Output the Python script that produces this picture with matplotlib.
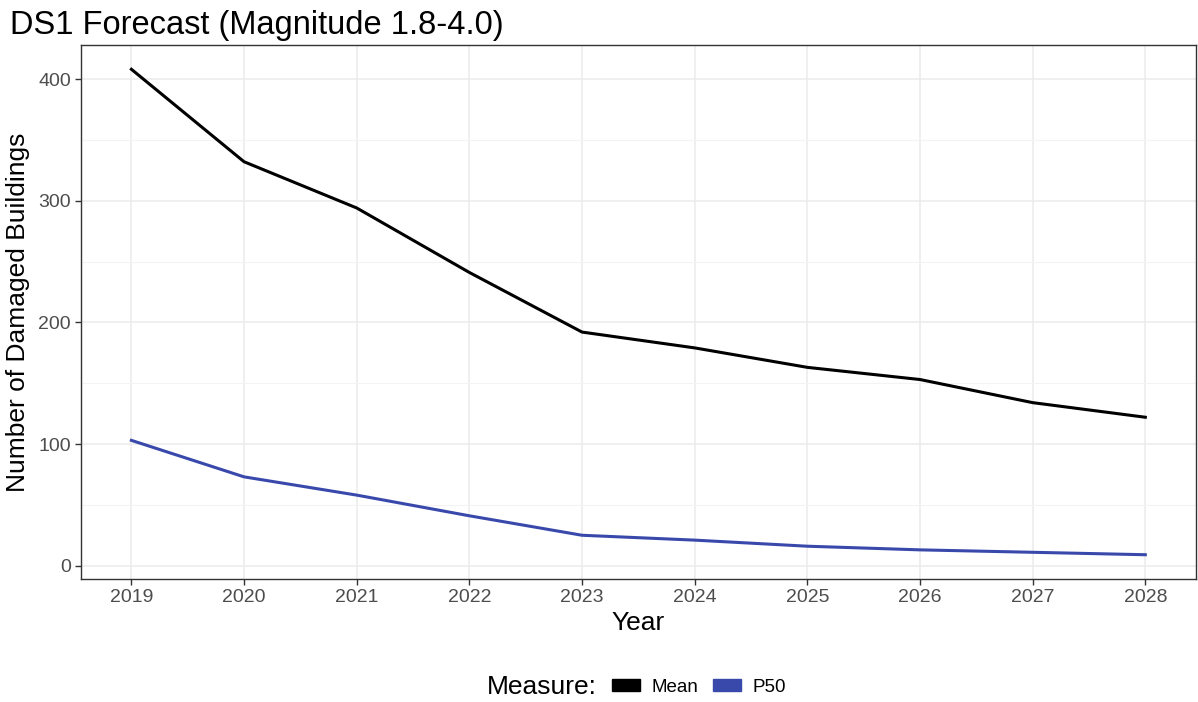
import numpy as np
import matplotlib.pyplot as plt
from matplotlib.patches import Patch
from matplotlib.ticker import MultipleLocator

# data
years = [2019, 2020, 2021, 2022, 2023, 2024, 2025, 2026, 2027, 2028]
mean_vals = [408, 332, 294, 241, 192, 179, 163, 153, 134, 122]
p50_vals = [103, 73, 58, 41, 25, 21, 16, 13, 11, 9]
series_names = ['Mean', 'P50']
series_colors = ['#000000', '#3949AB']

plt.rcParams['font.family'] = ['Liberation Sans', 'DejaVu Sans']

fig = plt.figure(figsize=(11.98, 7.02), dpi=100)
ax = fig.add_axes([80.7 / 1198, 1 - 579 / 702, (1196 - 80.7) / 1198, (579 - 45) / 702])

ax.plot(years, mean_vals, color=series_colors[0], lw=2.2, zorder=3)
ax.plot(years, p50_vals, color=series_colors[1], lw=2.2, zorder=3)

# ggplot-like 5% expansion
lo = min(p50_vals); hi = max(mean_vals)
pad = (hi - lo) * 0.05
ax.set_ylim(lo - pad, hi + pad)
ax.set_xlim(years[0] - 0.45, years[-1] + 0.45)

ax.set_xticks(years)
ax.yaxis.set_major_locator(MultipleLocator(100))
ax.yaxis.set_minor_locator(MultipleLocator(50))

ax.grid(which='major', color='#EBEBEB', lw=1.1, zorder=0)
ax.grid(which='minor', axis='y', color='#F3F3F3', lw=0.8, zorder=0)
ax.set_axisbelow(True)

for s in ax.spines.values():
    s.set_color('#333333')
    s.set_linewidth(1.0)

ax.tick_params(which='major', length=4, width=1, color='#333333',
               labelsize=14, labelcolor='#4D4D4D', pad=3)
ax.tick_params(which='minor', length=0)

ax.set_xlabel('Year', fontsize=19)
ax.set_ylabel('Number of Damaged Buildings', fontsize=19)
ax.xaxis.set_label_coords(0.5, (579 - 623) / 534)
ax.yaxis.set_label_coords((18 - 80.7) / 1115, 0.5)
ax.xaxis.label.set_va('center')
ax.yaxis.label.set_va('center')

fig.text(10 / 1198, 1 - 34 / 702, 'DS1 Forecast (Magnitude 1.8-4.0)', fontsize=23.5,
         ha='left', va='baseline')

# legend with title on the left
fig.text(597 / 1198, 1 - 687 / 702, 'Measure:', fontsize=19, ha='right', va='center')
handles = [Patch(facecolor=c, edgecolor=c) for c in series_colors]
fig.legend(handles, series_names, loc='center left', bbox_to_anchor=(612 / 1198, 1 - 687 / 702),
           ncol=2, frameon=False, fontsize=13.5, handlelength=1.5, handleheight=0.55,
           handletextpad=0.6, columnspacing=0.8, borderaxespad=0, borderpad=0)

fig.savefig('out.png', dpi=100)
